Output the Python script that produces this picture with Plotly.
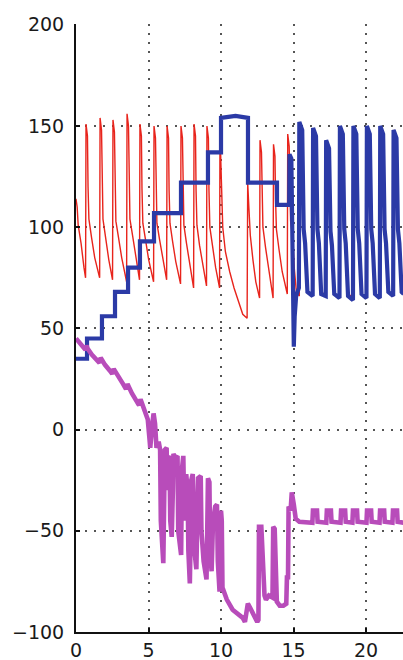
import plotly.graph_objects as go

# ---------------- data ----------------
red_x = [0, 0.08, 0.15, 0.35, 0.55, 0.66,
         0.69, 0.79, 0.83, 0.89, 1.07, 1.29, 1.63,
         1.66, 1.76, 1.8, 1.86, 2.04, 2.26, 2.52,
         2.55, 2.65, 2.69, 2.75, 2.93, 3.15, 3.49,
         3.52, 3.62, 3.66, 3.72, 3.9, 4.12, 4.38,
         4.41, 4.51, 4.55, 4.61, 4.79, 5.01, 5.35,
         5.38, 5.48, 5.52, 5.58, 5.76, 5.98, 6.25,
         6.28, 6.38, 6.42, 6.48, 6.66, 6.88, 7.21,
         7.24, 7.34, 7.38, 7.44, 7.62, 7.84, 8.11,
         8.14, 8.24, 8.28, 8.34, 8.52, 8.74, 9.0,
         9.03, 9.13, 9.17, 9.23, 9.41, 9.63, 9.9,
         9.93, 9.99, 10.04, 10.12, 10.3, 10.6, 10.9, 11.2, 11.5, 11.8,
         11.84, 11.92, 12.02, 12.2, 12.4, 12.66,
         12.69, 12.79, 12.83, 12.89, 13.07, 13.29, 13.59,
         13.62, 13.72, 13.76, 13.82, 14.0, 14.22, 14.57,
         14.6, 14.7, 14.74, 14.8, 14.95, 15.05, 15.2, 15.4,
         15.43, 15.63, 15.68, 15.73, 15.83, 15.91, 15.99, 16.35,
         16.38, 16.58, 16.63, 16.68, 16.78, 16.86, 16.94, 17.25,
         17.28, 17.48, 17.53, 17.58, 17.68, 17.76, 17.84, 18.2,
         18.23, 18.43, 18.48, 18.53, 18.63, 18.71, 18.79, 19.13,
         19.16, 19.36, 19.41, 19.46, 19.56, 19.64, 19.72, 20.06,
         20.09, 20.29, 20.34, 20.39, 20.49, 20.57, 20.65, 20.98,
         21.01, 21.21, 21.26, 21.31, 21.41, 21.49, 21.57, 21.9,
         21.93, 22.13, 22.18, 22.23, 22.33, 22.41, 22.49, 22.6]
red_y = [114, 110, 101, 92, 80, 75,
         151, 145, 120, 104, 95, 85, 75,
         154, 148, 120, 104, 95, 84, 74,
         153, 147, 120, 103, 95, 85, 73,
         156, 150, 121, 104, 96, 85, 74,
         151, 145, 119, 102, 94, 84, 73,
         150, 144, 119, 102, 94, 84, 74,
         150, 144, 118, 102, 93, 83, 72,
         150, 144, 118, 101, 92, 81, 70,
         151, 145, 118, 101, 91, 81, 71,
         150, 144, 118, 100, 91, 80, 70,
         150, 132, 112, 100, 88, 78, 70, 63, 57, 55,
         122, 110, 96, 84, 73, 65,
         143, 137, 116, 100, 90, 79, 65,
         141, 135, 114, 99, 89, 78, 67,
         146, 140, 117, 103, 95, 80, 68, 66,
         149, 145, 112, 100, 93, 79, 68, 66,
         147, 143, 112, 100, 93, 79, 68, 66,
         143, 139, 111, 99, 92, 78, 67, 65,
         149, 145, 112, 100, 93, 79, 67, 65,
         149, 145, 112, 100, 93, 79, 67, 65,
         149, 145, 112, 100, 93, 79, 67, 65,
         149, 145, 112, 100, 93, 79, 68, 66,
         148, 144, 112, 100, 93, 79, 68, 67]

blue_x = [0, 0.76, 0.76, 1.79, 1.79, 2.69, 2.69, 3.59, 3.59, 4.41, 4.41, 5.38, 5.38,
          7.24, 7.24, 9.1, 9.1, 10.0, 10.0, 11.0, 11.86, 11.86, 13.86, 13.86,
          14.7, 14.72, 14.85, 14.92, 15.02, 15.08, 15.18, 15.37,
          15.4, 15.6, 15.65, 15.7, 15.8, 15.88, 15.96, 16.32,
          16.35, 16.55, 16.6, 16.65, 16.75, 16.83, 16.91, 17.22,
          17.25, 17.45, 17.5, 17.55, 17.65, 17.73, 17.81, 18.17,
          18.2, 18.4, 18.45, 18.5, 18.6, 18.68, 18.76, 19.1,
          19.13, 19.33, 19.38, 19.43, 19.53, 19.61, 19.69, 20.03,
          20.06, 20.26, 20.31, 20.36, 20.46, 20.54, 20.62, 20.95,
          20.98, 21.18, 21.23, 21.28, 21.38, 21.46, 21.54, 21.87,
          21.9, 22.1, 22.15, 22.2, 22.3, 22.38, 22.46, 22.6]
blue_y = [35, 35, 45, 45, 56, 56, 68, 68, 80, 80, 93, 93, 107,
          107, 122, 122, 137, 137, 154, 155, 154, 122, 122, 111,
          111, 136, 134, 100, 41, 56, 66, 70,
          152, 148, 112, 99, 92, 79, 68, 66,
          149, 145, 112, 99, 92, 79, 67, 66,
          143, 139, 111, 98, 91, 78, 67, 65,
          150, 146, 112, 99, 92, 79, 66, 64,
          150, 146, 112, 99, 92, 79, 67, 65,
          150, 146, 112, 99, 92, 79, 67, 65,
          150, 146, 112, 99, 92, 79, 68, 66,
          148, 144, 112, 99, 92, 79, 68, 67]

mag_x = [0, 0.35, 0.65, 0.72, 0.8, 1.1, 1.45, 1.62, 1.7, 2.0, 2.35, 2.5, 2.6,
         2.9, 3.25, 3.45, 3.55, 3.85, 4.15, 4.35, 4.45, 4.75, 4.95, 5.05, 5.12,
         5.25, 5.35, 5.45, 5.55, 5.7, 5.8,
         5.85, 5.95, 6.02, 6.08, 6.12, 6.25, 6.3, 6.35,
         6.45, 6.5, 6.6, 6.68, 6.72, 6.85,
         7.0, 7.05, 7.15, 7.25, 7.3, 7.4, 7.45, 7.55, 7.6,
         7.7, 7.75, 7.85, 7.9, 7.95, 8.05,
         8.1, 8.2, 8.3, 8.38, 8.42, 8.6,
         8.65, 8.8, 9.0, 9.05, 9.1, 9.2, 9.25, 9.35, 9.45,
         9.6, 9.72, 9.78, 9.9, 9.95, 10.0, 10.05, 10.1,
         10.4, 10.8, 11.1, 11.5, 11.65, 11.85, 12.0,
         12.2, 12.5, 12.58, 12.62, 12.78, 12.85, 12.92, 13.0, 13.1, 13.3, 13.55,
         13.6, 13.7, 13.76, 13.85, 14.05, 14.3, 14.5, 14.55, 14.62, 14.66, 14.8,
         14.88, 14.95, 15.02, 15.15, 15.4, 16.3, 16.34, 16.62, 16.66, 17.26, 17.3,
         17.58, 17.62, 18.24, 18.28, 18.56, 18.6, 19.06, 19.1, 19.38, 19.42,
         20.03, 20.07, 20.35, 20.39, 20.93, 20.97, 21.25, 21.29, 21.82, 21.86,
         22.14, 22.18, 22.6]
mag_y = [45, 42, 39.5, 41.5, 40, 37, 34, 33, 35.5, 32, 29, 27.5, 30,
         26, 22.5, 20, 22.5, 18, 14.5, 12, 15, 9, 5, -3, -9,
         2, 8, 3, -9, -6, -10,
         -45, -58, -66, -35, -10, -9, -30, -14,
         -13, -45, -53, -30, -12, -14,
         -13, -50, -58, -62, -20, -13, -35, -45, -22,
         -30, -60, -76, -55, -25, -22,
         -40, -62, -69, -45, -24, -23,
         -50, -65, -74, -50, -24, -26, -60, -70, -45,
         -38, -37, -65, -80, -60, -40, -45, -78,
         -84, -89, -91, -93, -95, -86, -88,
         -91, -95, -94, -48, -48, -60, -66, -82, -84, -82, -83,
         -48, -49, -70, -85, -87, -87, -86, -72, -74, -38, -40,
         -31, -33, -37, -44, -45.5, -46, -40, -40, -45.5, -46, -40,
         -40, -45.5, -46, -40, -40, -45.5, -46, -40, -40, -45.5,
         -46, -40, -40, -45.5, -46, -40, -40, -45.5, -46, -40,
         -40, -45.5, -46]

x_ticks = [0, 5, 10, 15, 20]
y_ticks = [-100, -50, 0, 50, 100, 150, 200]

# ---------------- figure ----------------
fig = go.Figure()
fig.add_trace(go.Scatter(x=red_x, y=red_y, mode="lines",
                         line=dict(color="#e8241c", width=1.4), hoverinfo="skip"))
fig.add_trace(go.Scatter(x=blue_x, y=blue_y, mode="lines",
                         line=dict(color="#2b3aa6", width=4.2), hoverinfo="skip"))
fig.add_trace(go.Scatter(x=mag_x, y=mag_y, mode="lines",
                         line=dict(color="#b84cba", width=4.6), hoverinfo="skip"))

axis_common = dict(
    showgrid=True, gridcolor="#555555", gridwidth=2, griddash="2px,7px",
    showline=True, linecolor="#111111", linewidth=2, mirror=False,
    zeroline=False, ticks="inside", ticklen=4, tickcolor="#111111", tickwidth=2,
    tickfont=dict(family="DejaVu Sans", size=19, color="#1a1a1a"),
)
fig.update_xaxes(range=[0, 22.55], tickvals=x_ticks, **axis_common)
fig.update_yaxes(range=[-100, 200.4], tickvals=y_ticks, ticklabelstandoff=6, **axis_common)

fig.update_layout(
    width=403, height=660,
    margin=dict(l=76, r=0, t=24, b=28),
    plot_bgcolor="white", paper_bgcolor="white",
    showlegend=False,
)

fig.write_html("out.html")
